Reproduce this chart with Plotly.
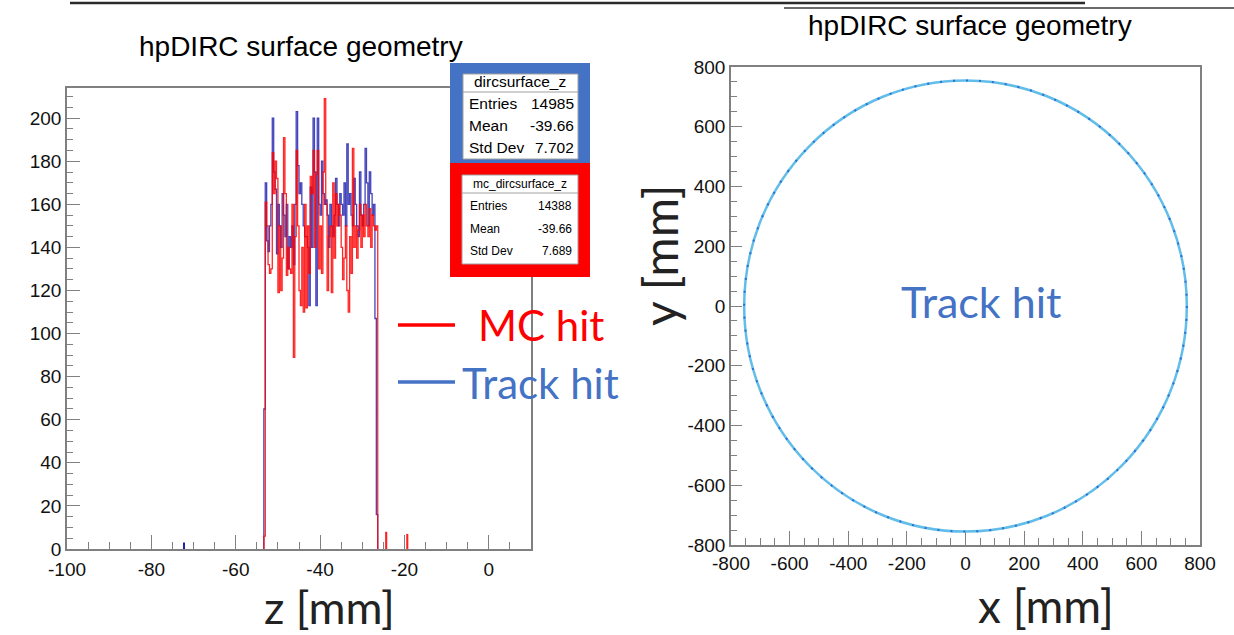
import plotly.graph_objects as go

W, H = 1234, 635

# ---------------- data ----------------
# left: hpDIRC surface z histogram (bin width 1/3 mm)
z_start = -53.333
z_width = 1.0 / 3.0
mc_counts = [
    6,
    161, 150, 132, 128, 130, 184, 165, 180, 172, 119,
    150, 120, 135, 191, 165, 127, 140, 130, 128, 160,
    89, 145, 185, 150, 120, 113, 140, 110, 160, 112,
    150, 128, 173, 165, 185, 140, 174, 185, 130, 150,
    128, 175, 209, 160, 120, 145, 150, 119, 170, 135,
    165, 150, 160, 155, 140, 125, 135, 150, 120, 110,
    145, 128, 186, 140, 150, 135, 148, 160, 140, 155,
    145, 160, 150, 145, 158, 140, 155, 150, 148, 150,
]
track_counts = [
    65,
    170, 143, 138, 150, 160, 200, 175, 167, 137, 160,
    150, 140, 165, 155, 145, 160, 130, 145, 140, 150,
    132, 160, 203, 178, 165, 170, 160, 150, 145, 145,
    140, 113, 168, 140, 200, 175, 113, 200, 160, 155,
    180, 165, 160, 162, 155, 140, 160, 150, 145, 155,
    172, 160, 150, 165, 160, 155, 170, 150, 188, 160,
    165, 155, 150, 172, 160, 150, 145, 175, 155, 150,
    160, 186, 170, 150, 175, 165, 155, 160, 107,
    16,
]
mc_out_z = [-24.33, -19.33]
mc_out_counts = [8, 7]
track_out_z = [-72.33]
track_out_counts = [3]

# axis tick labels (ROOT style hyphen minus)
z_ticks = [-100, -80, -60, -40, -20, 0]
count_ticks = [0, 20, 40, 60, 80, 100, 120, 140, 160, 180, 200]
xy_ticks = [-800, -600, -400, -200, 0, 200, 400, 600, 800]

# right: track hits lie on a ring
ring_radius = 755

# stats boxes
track_stats = [("Entries", "14985"), ("Mean", "-39.66"), ("Std Dev", "7.702")]
mc_stats = [("Entries", "14388"), ("Mean", "-39.66"), ("Std Dev", "7.689")]

# ---------------- helpers ----------------
def px(x):
    return x / W

def py(y):
    return 1 - y / H

def step_xy(start, width, counts):
    edges = [start + i * width for i in range(len(counts) + 1)]
    xs = [edges[0]]
    ys = [0]
    for i, c in enumerate(counts):
        xs.append(edges[i])
        ys.append(c)
    xs.append(edges[-1]); ys.append(counts[-1])
    xs.append(edges[-1]); ys.append(0)
    return xs, ys

fig = go.Figure()

tx, ty = step_xy(z_start, z_width, track_counts)
fig.add_trace(go.Scatter(x=tx, y=ty, mode="lines", line_shape="hv",
                         line=dict(color="rgba(35,35,175,0.85)", width=1.3),
                         xaxis="x", yaxis="y", showlegend=False, hoverinfo="skip"))
mx, my = step_xy(z_start, z_width, mc_counts)
fig.add_trace(go.Scatter(x=mx, y=my, mode="lines", line_shape="hv",
                         line=dict(color="rgba(255,0,0,0.85)", width=1.3),
                         xaxis="x", yaxis="y", showlegend=False, hoverinfo="skip"))
fig.add_trace(go.Bar(x=track_out_z, y=track_out_counts, width=z_width,
                     marker=dict(color="#2020b0", line=dict(width=0)),
                     xaxis="x", yaxis="y", showlegend=False))
fig.add_trace(go.Bar(x=mc_out_z, y=mc_out_counts, width=z_width * 1.5,
                     marker=dict(color="#ff2020", line=dict(width=0)),
                     xaxis="x", yaxis="y", showlegend=False))

def labels(vals):
    return [str(v) for v in vals]

axis_common = dict(showline=True, linecolor="#808080", linewidth=1.5, mirror=True,
                   ticks="inside", tickcolor="#808080", tickwidth=1.3,
                   showgrid=False, zeroline=False, automargin=False,
                   tickmode="array",
                   tickfont=dict(family="Liberation Sans, Arial", size=19, color="#111"))

shapes = []
annotations = []

# ring
shapes.append(dict(type="circle", xref="x2", yref="y2",
                   x0=-ring_radius, x1=ring_radius, y0=-ring_radius, y1=ring_radius,
                   line=dict(color="#62bde8", width=2.5), layer="above"))
shapes.append(dict(type="circle", xref="x2", yref="y2",
                   x0=-ring_radius, x1=ring_radius, y0=-ring_radius, y1=ring_radius,
                   line=dict(color="#2a6fd6", width=2, dash="2px,11px"), layer="above"))

def rect(x0, y0, x1, y1, fill, line=None):
    shapes.append(dict(type="rect", xref="paper", yref="paper",
                       x0=px(x0), x1=px(x1), y0=py(y1), y1=py(y0),
                       fillcolor=fill, line=line or dict(width=0), layer="above"))

def hline(x0, x1, y, color, width):
    shapes.append(dict(type="line", xref="paper", yref="paper",
                       x0=px(x0), x1=px(x1), y0=py(y), y1=py(y),
                       line=dict(color=color, width=width), layer="above"))

def text(x, y, s, size, color="#000", family="Liberation Sans, Arial", xanchor="center", angle=0):
    annotations.append(dict(x=px(x), y=py(y), xref="paper", yref="paper", text=s,
                            showarrow=False, xanchor=xanchor, yanchor="middle", textangle=angle,
                            font=dict(family=family, size=size, color=color)))

# slide top remnants
hline(70, 1085, 3, "#2a2a2a", 2.5)
hline(784, 1234, 8, "#3a3a3a", 1.5)

# stats boxes
rect(450, 63, 590, 163, "#4472C4")
rect(463, 74, 578, 159, "white", dict(color="#a0a0a0", width=1))
hline(463, 578, 92, "#a0a0a0", 1)
text(520, 82, "dircsurface_z", 15.5)
for i, (k, v) in enumerate(track_stats):
    yy = 103 + i * 22.5
    text(467, yy, k, 15.5, xanchor="left")
    text(576, yy, v, 15.5, xanchor="right")

rect(450, 163, 590, 277, "#FF0000")
rect(462, 175, 578, 264, "white", dict(color="#a0a0a0", width=1))
hline(462, 578, 193, "#a0a0a0", 1)
text(520, 184, "mc_dircsurface_z", 12)
for i, (k, v) in enumerate(mc_stats):
    yy = 206 + i * 22.5
    text(468, yy, k, 12, xanchor="left")
    text(574, yy, v, 12, xanchor="right")

# legend
hline(398, 455, 325, "#FF0000", 3.5)
hline(398, 455, 382, "#4472C4", 3.5)
text(476, 325, "MC hit", 42, color="#FF0000", family="Lato", xanchor="left")
text(460, 383, "Track hit", 42, color="#4472C4", family="Lato", xanchor="left")

# titles & axis labels
text(301, 47, "hpDIRC surface geometry", 28)
text(970, 25, "hpDIRC surface geometry", 28)
text(330, 607, "z [mm]", 45, color="#222", family="Lato")
text(1046, 605, "x [mm]", 46, color="#222", family="Lato")
text(660, 255, "y [mm]", 48, color="#222", family="Lato", angle=-90)
text(981, 301, "Track hit", 43, color="#4472C4", family="Lato")

fig.update_layout(
    width=W, height=H, margin=dict(l=0, r=0, t=0, b=0, autoexpand=False),
    paper_bgcolor="white", plot_bgcolor="white", barmode="overlay",
    showlegend=False,
    xaxis=dict(domain=[px(67), px(531)], range=[-100, 10], anchor="y",
               tickvals=z_ticks, ticktext=labels(z_ticks), ticklen=14, ticklabelstandoff=2,
               minor=dict(ticks="inside", ticklen=7, dtick=5, tick0=0, tickcolor="#808080"),
               **axis_common),
    yaxis=dict(domain=[py(549), py(88)], range=[0, 214], anchor="x",
               tickvals=count_ticks, ticktext=labels(count_ticks), ticklen=13,
               minor=dict(ticks="inside", ticklen=6, dtick=5, tick0=0, tickcolor="#808080"),
               **axis_common),
    xaxis2=dict(domain=[px(731), px(1200)], range=[-800, 800], anchor="y2",
                tickvals=xy_ticks, ticktext=labels(xy_ticks), ticklen=14,
                minor=dict(ticks="inside", ticklen=7, dtick=50, tick0=0, tickcolor="#808080"),
                **axis_common),
    yaxis2=dict(domain=[py(545), py(67)], range=[-800, 800], anchor="x2",
                tickvals=xy_ticks, ticktext=labels(xy_ticks), ticklen=11,
                minor=dict(ticks="inside", ticklen=6, dtick=50, tick0=0, tickcolor="#808080"),
                **axis_common),
    shapes=shapes,
    annotations=annotations,
)

fig.write_html("out.html")
